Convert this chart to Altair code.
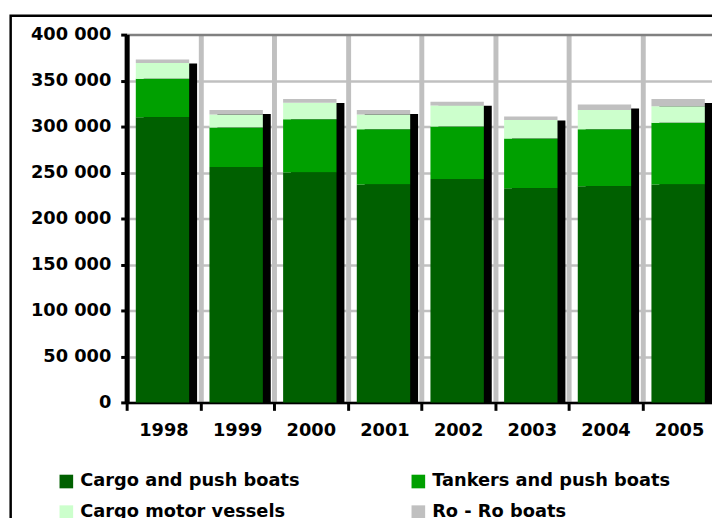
import altair as alt
import pandas as pd

years = ["1998", "1999", "2000", "2001", "2002", "2003", "2004", "2005"]
cargo_push = [310000, 256000, 250000, 237000, 243000, 233000, 235000, 237000]
tankers_push = [42000, 43000, 58000, 60000, 57000, 54000, 62000, 67000]
cargo_motor = [17000, 14000, 18000, 16000, 23000, 20000, 21000, 18000]
ro_ro = [4000, 5000, 4000, 5000, 4000, 4000, 6000, 8000]
series = ["Cargo and push boats", "Tankers and push boats", "Cargo motor vessels", "Ro - Ro boats"]
colors = ["#006000", "#00a000", "#ccffcc", "#c0c0c0"]

rows = []
for si, (name, vals) in enumerate(zip(series, [cargo_push, tankers_push, cargo_motor, ro_ro])):
    for y, v in zip(years, vals):
        rows.append({"year": y, "series": name, "value": v, "order": si})
df = pd.DataFrame(rows)

FONT = "DejaVu Sans"
FS = 18

x_enc = alt.X("year:N", sort=years,
              scale=alt.Scale(range=[0, 596], paddingInner=0, paddingOuter=0),
              axis=alt.Axis(title=None, labelAngle=0, tickBand="extent", grid=True,
                            gridColor="#c0c0c0", gridWidth=5,
                            domainColor="black", domainWidth=2.5,
                            tickColor="black", tickWidth=3, tickSize=8,
                            labelFont=FONT, labelFontSize=FS, labelFontWeight="bold",
                            labelColor="black", labelPadding=11))

y_axis = alt.Axis(title=None, values=list(range(0, 400001, 50000)),
                  labelExpr="replace(format(datum.value, ','), ',', ' ')",
                  gridColor={"condition": {"test": "datum.value === 400000", "value": "#808080"},
                             "value": "#c0c0c0"},
                  gridWidth=2.5, domainColor="black", domainWidth=5,
                  tickColor="black", tickWidth=3, tickSize=6,
                  labelFont=FONT, labelFontSize=FS, labelFontWeight="bold",
                  labelColor="black", labelPadding=10)

base = alt.Chart(df)

shadow = base.mark_bar(color="black", size=54, xOffset=7, yOffset=4).encode(
    x=x_enc,
    y=alt.Y("sum(value):Q", scale=alt.Scale(domain=[0, 400000]), axis=y_axis),
)

bars = base.mark_bar(size=54, xOffset=-1).encode(
    x=x_enc,
    y=alt.Y("value:Q", stack="zero", scale=alt.Scale(domain=[0, 400000]), axis=y_axis),
    color=alt.Color("series:N", sort=series,
                    scale=alt.Scale(domain=series, range=colors),
                    legend=alt.Legend(title=None, orient="none", legendX=-70, legendY=443,
                                      columns=2, direction="horizontal",
                                      columnPadding=110, rowPadding=13,
                                      symbolType="square", symbolSize=190,
                                      symbolStrokeWidth=0, labelOffset=5,
                                      labelLimit=600,
                                      labelFont=FONT, labelFontSize=FS,
                                      labelFontWeight="bold", labelColor="black",
                                      padding=0)),
    order=alt.Order("order:Q", sort="ascending"),
)

border = alt.Chart(pd.DataFrame({"a": [0]})).mark_rect(
    fillOpacity=0, stroke="black", strokeWidth=2.5
).encode(
    x=alt.value(-117.3), x2=alt.value(640), y=alt.value(-19), y2=alt.value(540)
)

chart = alt.layer(shadow, bars, border).properties(
    width=592, height=372,
    autosize=alt.AutoSizeParams(type="none"),
    padding={"left": 120, "top": 24, "right": 0, "bottom": 114},
    background="white",
).configure_view(stroke=None)

chart.save("out.html", embed_options={"renderer": "svg", "actions": False})
